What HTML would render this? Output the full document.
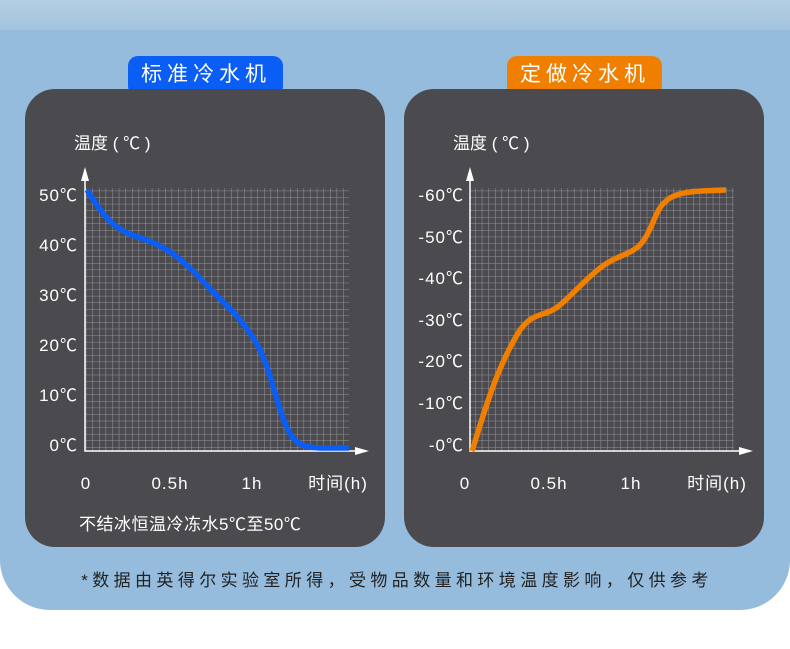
<!DOCTYPE html>
<html><head><meta charset="utf-8"><style>
body{margin:0;width:790px;height:644px;background:#fff;overflow:hidden;font-family:"Liberation Sans","Noto Sans CJK SC",sans-serif}
</style></head><body>
<svg width="790" height="644" xmlns="http://www.w3.org/2000/svg" font-family="Liberation Sans, Noto Sans CJK SC, sans-serif">
<defs>
<linearGradient id="tg" x1="0" y1="0" x2="0" y2="1"><stop offset="0" stop-color="#b3cde4"/><stop offset="1" stop-color="#a4c4e0"/></linearGradient>
<pattern id="gp" width="6.6" height="6.575" patternUnits="userSpaceOnUse"><path d="M0 0H6.6M0 0V6.575" stroke="#96969b" stroke-width="1" fill="none"/></pattern>
</defs>
<path d="M0 0H790V560A50 50 0 0 1 740 610H50A50 50 0 0 1 0 560Z" fill="#95bcdd"/>
<rect x="0" y="0" width="790" height="30" fill="url(#tg)"/>
<rect x="128" y="56" width="155" height="40" rx="10" fill="#0a5ef5"/>
<rect x="507" y="56" width="155" height="40" rx="10" fill="#f07f00"/>
<text x="206" y="81" fill="#fff" font-size="21" text-anchor="middle" letter-spacing="5">标准冷水机</text>
<text x="585" y="81" fill="#fff" font-size="21" text-anchor="middle" letter-spacing="5">定做冷水机</text>
<rect x="25" y="89" width="360" height="458" rx="30" fill="#4a4a4f"/>
<rect x="404" y="89" width="360" height="458" rx="30" fill="#4a4a4f"/>
<g fill="#fff" font-size="17">
<text x="74" y="149">温度 ( ℃ )</text>
<text x="453" y="149">温度 ( ℃ )</text>
</g>
<rect x="85" y="188" width="264" height="263" fill="url(#gp)"/>
<rect x="470" y="188" width="264" height="263" fill="url(#gp)"/>
<g stroke="#fff" stroke-width="1.5" fill="none">
<path d="M85 178V451H360"/><path d="M470 178V451H745"/>
</g>
<g fill="#fff"><path d="M85 167L81 181H89Z"/><path d="M470 167L466 181H474Z"/><path d="M369 451L355 447V455Z"/><path d="M753 451L739 447V455Z"/></g>
<path d="M87 190C100 210 110 228 135 236C160 244 175 252 200 278C225 305 245 320 260 350C272 375 278 410 288 430C296 446 305 447 320 448L349 448" fill="none" stroke="#0a5ef5" stroke-width="5.5"/>
<path d="M472 451C482 420 495 370 520 330C535 310 545 318 560 305C575 292 585 280 600 268C615 256 630 255 640 245C652 232 655 210 665 202C675 192 690 191 726 190" fill="none" stroke="#f07f00" stroke-width="5.5"/>
<g fill="#fff" font-size="17" text-anchor="end" letter-spacing="1">
<text x="78" y="201">50℃</text><text x="78" y="251">40℃</text><text x="78" y="301">30℃</text><text x="78" y="351">20℃</text><text x="78" y="401">10℃</text><text x="78" y="451">0℃</text>
<text x="464" y="201">-60℃</text><text x="464" y="243">-50℃</text><text x="464" y="284">-40℃</text><text x="464" y="326">-30℃</text><text x="464" y="367">-20℃</text><text x="464" y="409">-10℃</text><text x="464" y="451">-0℃</text>
</g>
<g fill="#fff" font-size="17" text-anchor="middle" letter-spacing="1">
<text x="86" y="489">0</text><text x="170" y="489">0.5h</text><text x="252" y="489">1h</text><text x="338" y="489">时间(h)</text>
<text x="465" y="489">0</text><text x="549" y="489">0.5h</text><text x="631" y="489">1h</text><text x="717" y="489">时间(h)</text>
</g>
<text x="79" y="530" fill="#fff" font-size="17" letter-spacing="0.5">不结冰恒温冷冻水5℃至50℃</text>
<text x="397" y="586" fill="#222" font-size="17" text-anchor="middle" letter-spacing="4.4">*数据由英得尔实验室所得，受物品数量和环境温度影响，仅供参考</text>
</svg>
</body></html>
